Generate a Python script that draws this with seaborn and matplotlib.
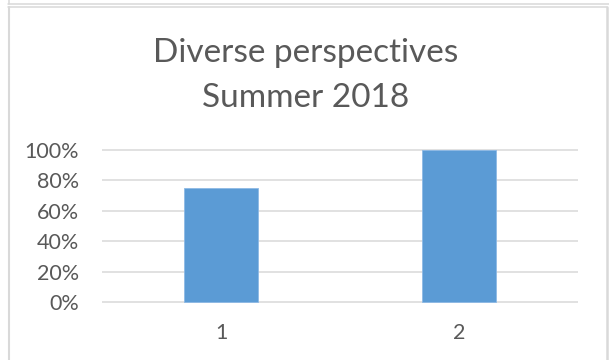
import matplotlib
matplotlib.use("Agg")
import matplotlib.pyplot as plt
from matplotlib.lines import Line2D
from matplotlib.ticker import FixedLocator
import seaborn as sns
import pandas as pd

# Chart data
categories = ["1", "2"]
values = [0.75, 1.00]
y_ticks = [0.0, 0.2, 0.4, 0.6, 0.8, 1.0]
y_tick_labels = ["0%", "20%", "40%", "60%", "80%", "100%"]
title_lines = ["Diverse perspectives", "Summer 2018"]

sns.set_theme(style="white")
plt.rcParams["font.family"] = ["Lato", "DejaVu Sans"]

W, H = 609, 360
DPI = 100
fig = plt.figure(figsize=(W / DPI, H / DPI), dpi=DPI)
fig.patch.set_facecolor("white")

text_color = "#595959"
grid_color = "#D9D9D9"
bar_color = "#5B9BD5"

# Plot area in pixel coordinates (top-left origin)
px_left, px_right = 102, 578
px_top, px_bottom = 150, 302
pad = 0.006  # small headroom so edge gridlines are not clipped
span = px_bottom - px_top
ax_top = px_top - pad * span
ax_bottom = px_bottom + pad * span
ax = fig.add_axes([px_left / W, 1 - ax_bottom / H,
                   (px_right - px_left) / W, (ax_bottom - ax_top) / H])

df = pd.DataFrame({"category": categories, "value": values})
sns.barplot(data=df, x="category", y="value", color=bar_color, width=0.31,
            saturation=1, edgecolor="#8DB9E5", linewidth=0.6, ax=ax, zorder=3)

ax.set_xlim(-0.5, 1.5)
ax.set_ylim(-pad, 1 + pad)
ax.yaxis.set_major_locator(FixedLocator(y_ticks))
ax.set_yticklabels(y_tick_labels)
ax.grid(axis="y", color=grid_color, linewidth=1.1, zorder=0)
ax.grid(axis="x", visible=False)
for s in ax.spines.values():
    s.set_visible(False)
ax.set_xlabel("")
ax.set_ylabel("")
ax.tick_params(axis="y", length=0, pad=16.5, labelsize=15.5, labelcolor=text_color)
ax.tick_params(axis="x", length=0, pad=14.5, labelsize=15.5, labelcolor=text_color)

# Title, two centered lines
cx = 306 / W
fig.text(cx, 1 - 62 / H, title_lines[0], ha="center", va="baseline",
         fontsize=24, color=text_color)
fig.text(cx, 1 - 107 / H, title_lines[1], ha="center", va="baseline",
         fontsize=24, color=text_color)

# Chart frame
frame_color = "#D9D9D9"
def hline(y, x0, x1, lw=1.1):
    fig.add_artist(Line2D([x0 / W, x1 / W], [1 - y / H, 1 - y / H],
                          transform=fig.transFigure, color=frame_color, linewidth=lw))
def vline(x, y0, y1, lw=1.1):
    fig.add_artist(Line2D([x / W, x / W], [1 - y0 / H, 1 - y1 / H],
                          transform=fig.transFigure, color=frame_color, linewidth=lw))

hline(3.5, 8, 609)
vline(8.5, 0, 3.5)
hline(6.5, 8, 607)
vline(8.5, 6.5, 360, lw=1.5)
vline(606.5, 6.5, 360, lw=1.8)

fig.savefig("out.png", dpi=DPI, facecolor="white")
